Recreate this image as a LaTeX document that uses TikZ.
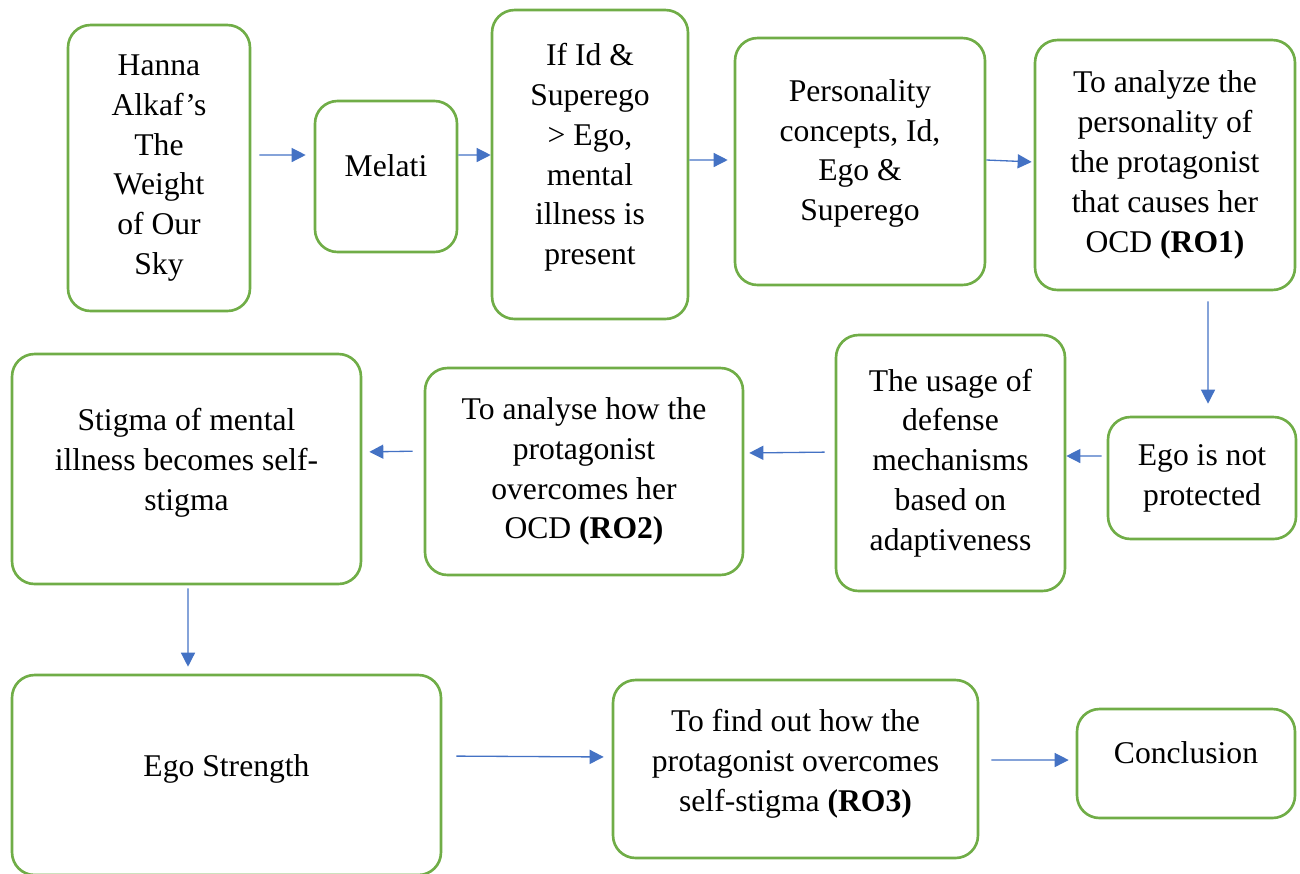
\documentclass[tikz,border=0pt]{standalone}
\usepackage{fontspec}
\setmainfont{Liberation Serif}
\usetikzlibrary{arrows.meta}
\definecolor{boxgreen}{HTML}{70AD47}
\definecolor{arrowblue}{HTML}{4472C4}
\tikzset{
	stepbox/.style={draw=boxgreen,line width=1.5pt,rounded corners=0.45cm,align=center,
		font=\fontsize{18pt}{22.7pt}\selectfont},
	flow/.style={draw=arrowblue,line width=0.75pt,-{Triangle[length=8pt,width=8pt]}}
}
\begin{document}
\begin{tikzpicture}[x=0.02cm,y=-0.02cm]
	\useasboundingbox (0,0) rectangle (1300,873);
	% first row
	\node[stepbox,minimum width=3.64cm,minimum height=5.72cm] (hanna) at (159,168) {Hanna\\Alkaf’s\\The\\Weight\\of Our\\Sky};
	\node[stepbox,minimum width=2.84cm,minimum height=3.02cm,text depth=0.44cm] (melati) at (386,176.5) {Melati};
	\node[stepbox,minimum width=3.92cm,minimum height=6.18cm,text depth=0.42cm] (ifid) at (590,164.5) {If Id \&\\Superego\\> Ego,\\mental\\illness is\\present};
	\node[stepbox,minimum width=5cm,minimum height=4.94cm,text depth=0.46cm] (concepts) at (860,161.5) {Personality\\concepts, Id,\\Ego \&\\Superego};
	\node[stepbox,minimum width=5.2cm,minimum height=5cm] (ro1) at (1165,165) {To analyze the\\personality of\\the protagonist\\that causes her\\OCD \textbf{(RO1)}};
	% second row, right to left
	\node[stepbox,minimum width=3.76cm,minimum height=2.44cm] (egonot) at (1202,478) {Ego is not\\protected};
	\node[stepbox,minimum width=4.58cm,minimum height=5.12cm] (usage) at (950.5,463) {The usage of\\defense\\mechanisms\\based on\\adaptiveness};
	\node[stepbox,minimum width=6.36cm,minimum height=4.14cm] (ro2) at (584,471.5) {To analyse how the\\protagonist\\overcomes her\\OCD \textbf{(RO2)}};
	\node[stepbox,minimum width=6.98cm,minimum height=4.6cm,text depth=0.38cm] (stigma) at (186.5,469) {Stigma of mental\\illness becomes self-\\stigma};
	% third row
	\node[stepbox,minimum width=8.58cm,minimum height=4cm,text depth=0.38cm] (strength) at (226.5,775) {Ego Strength};
	\node[stepbox,minimum width=7.3cm,minimum height=3.56cm,text depth=0.34cm] (ro3) at (795.5,769) {To find out how the\\protagonist overcomes\\self-stigma \textbf{(RO3)}};
	\node[stepbox,minimum width=4.36cm,minimum height=2.18cm,text depth=0.44cm] (conclusion) at (1186,763.5) {Conclusion};
	% connectors
	\draw[flow,shorten <=0.16cm,shorten >=0.16cm] ([yshift=0.26cm]hanna.east) -- ([yshift=0.43cm]melati.west);
	\draw[flow] ([yshift=0.43cm]melati.east) -- ([yshift=0.19cm]ifid.west);
	\draw[flow,shorten >=0.12cm] ([yshift=0.09cm]ifid.east) -- ([yshift=0.03cm]concepts.west);
	\draw[flow,shorten >=0.04cm] ([yshift=0.03cm]concepts.east) -- ([yshift=0.06cm]ro1.west);
	\draw[flow,shorten <=0.2cm,shorten >=0.24cm] ([xshift=0.86cm]ro1.south) -- ([xshift=0.12cm]egonot.north);
	\draw[flow,shorten <=0.1cm] ([yshift=0.44cm]egonot.west) -- ([yshift=0.14cm]usage.east);
	\draw[flow,shorten <=0.2cm,shorten >=0.1cm] ([yshift=0.22cm]usage.west) -- ([yshift=0.37cm]ro2.east);
	\draw[flow,shorten <=0.22cm,shorten >=0.14cm] ([yshift=0.41cm]ro2.west) -- ([yshift=0.34cm]stigma.east);
	\draw[flow,shorten <=0.06cm,shorten >=0.14cm] ([xshift=0.03cm]stigma.south) -- ([xshift=-0.77cm]strength.north);
	\draw[flow,shorten <=0.28cm,shorten >=0.16cm] ([yshift=0.38cm]strength.east) -- ([yshift=0.24cm]ro3.west);
	\draw[flow,shorten <=0.24cm,shorten >=0.14cm] ([yshift=0.18cm]ro3.east) -- ([yshift=0.07cm]conclusion.west);
\end{tikzpicture}
\end{document}
